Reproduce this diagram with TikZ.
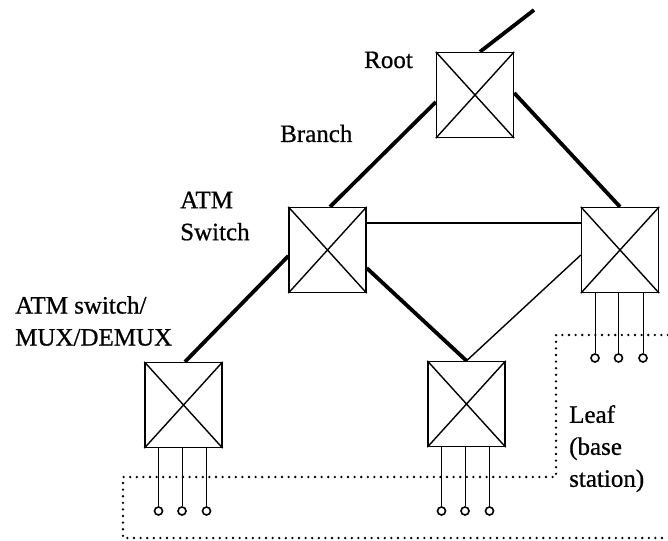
\documentclass[tikz,border=0pt]{standalone}
\usepackage{fontspec}
\setmainfont{Liberation Serif}
\newfontfamily\labfont{Liberation Serif}[FakeBold=0.7]
\begin{document}
\begin{tikzpicture}[x=1pt,y=-1pt,
  switchbox/.style={draw,line width=1.4pt,rectangle,minimum width=77pt,minimum height=85pt,inner sep=0pt},
  xline/.style={line width=1.4pt},
  trunk/.style={line width=3.8pt},
  link/.style={line width=1.4pt},
  leg/.style={line width=0.9pt},
  port/.style={draw,circle,line width=1.6pt,minimum size=8pt,inner sep=0pt},
  lab/.style={inner sep=0pt,font=\labfont\fontsize{25}{32}\selectfont,align=left},
  boundary/.style={line width=2.6pt,line cap=round,dash pattern=on 0pt off 6.6pt}]
\useasboundingbox (0,0) rectangle (668,540);
% switches
\node[switchbox] (root)  at (475,95) {};
\node[switchbox] (atm)   at (327.5,250) {};
\node[switchbox] (right) at (620,250) {};
\node[switchbox] (bl)    at (183.5,405) {};
\node[switchbox] (bm)    at (466.5,404) {};
\foreach \b in {root,atm,right,bl,bm}{
  \draw[xline] (\b.north west) -- (\b.south east);
  \draw[xline] (\b.south west) -- (\b.north east);
}
% ports
\foreach \b/\y in {bl/511,bm/511,right/358}{
  \foreach \dx/\i in {-25/1,-1.5/2,23/3}{
    \node[port] (\b p\i) at ([xshift=\dx pt]\b.south |- 0,\y) {};
    \draw[leg] (\b p\i.north) -- (\b p\i.north |- \b.south);
  }
}
% trunks
\coordinate (up) at (534,10);
\draw[trunk] ([xshift=5pt]root.north) -- (up);
\draw[trunk] ([yshift=-7pt]root.west) -- ([xshift=2.5pt]atm.north);
\draw[trunk] ([yshift=2pt]root.east) -- (right.north);
\draw[trunk] ([yshift=-6pt]atm.west) -- ([xshift=1.5pt]bl.north);
\draw[trunk] ([yshift=-18pt]atm.east) -- (bm.north);
% thin links
\draw[link] ([yshift=27pt]atm.east) -- ([yshift=27pt]atm.east -| right.west);
\draw[link] (bm.north) -- ([yshift=-5pt]right.west);
% leaf boundary
\coordinate (d1) at (668,335);
\coordinate (d2) at (556,335);
\coordinate (d3) at (556,477);
\coordinate (d4) at (123,477);
\coordinate (d5) at (123,538);
\coordinate (d6) at (668,538);
\draw[boundary] (d1) -- (d2) -- (d3) -- (d4) -- (d5) -- (d6);
% labels
\node[lab,anchor=base west] (troot) at (364,68) {Root};
\node[lab,anchor=base west] (tbranch) at (280,142) {Branch};
\node[lab,anchor=north west] (tatm) at (180,191.5) {ATM\\Switch};
\node[lab,anchor=north west] (tmux) at (15,296) {ATM switch/\\MUX/DEMUX};
\node[lab,anchor=north west] (tleaf) at (569,405) {Leaf\\(base\\station)};
\end{tikzpicture}
\end{document}
